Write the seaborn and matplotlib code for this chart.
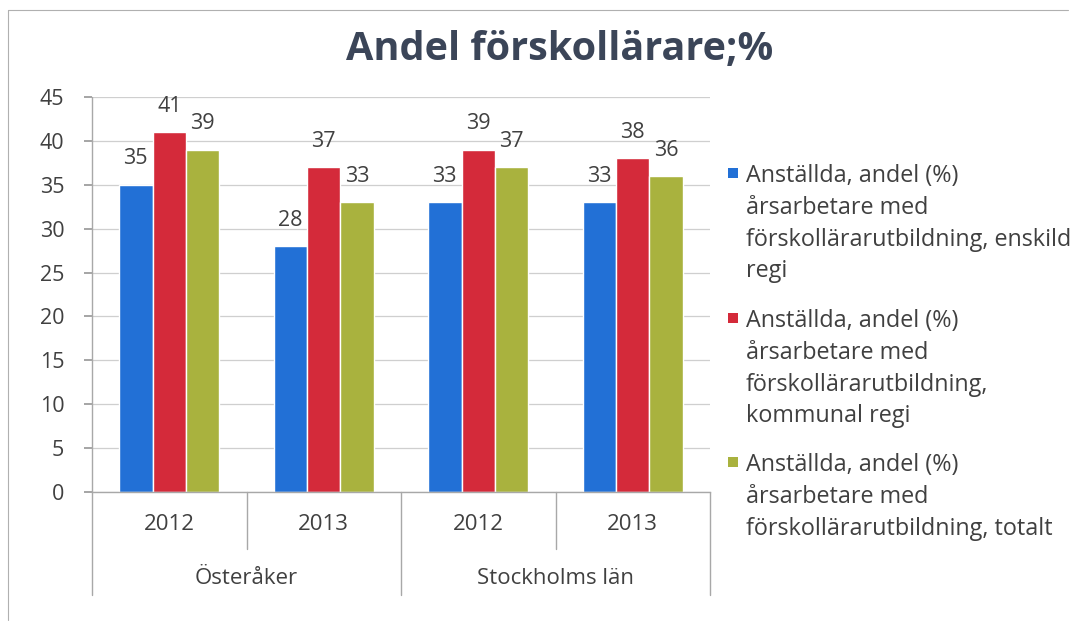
import matplotlib
matplotlib.use("Agg")
import matplotlib.pyplot as plt
import seaborn as sns
import pandas as pd
from matplotlib.patches import Rectangle
from matplotlib.lines import Line2D

# ---- data ----
groups = ["Österåker", "Österåker", "Stockholms län", "Stockholms län"]
years = ["2012", "2013", "2012", "2013"]
series_labels = [
    "Anställda, andel (%)\nårsarbetare med\nförskollärarutbildning, enskild\nregi",
    "Anställda, andel (%)\nårsarbetare med\nförskollärarutbildning,\nkommunal regi",
    "Anställda, andel (%)\nårsarbetare med\nförskollärarutbildning, totalt",
]
enskild = [35, 28, 33, 33]
kommunal = [41, 37, 39, 38]
totalt = [39, 33, 37, 36]
title = "Andel förskollärare;%"
colors = ["#2270d6", "#d42a3a", "#a9b23e"]

cats = [f"{g} {y}" for g, y in zip(groups, years)]
rows = []
for lab, vals in zip(series_labels, [enskild, kommunal, totalt]):
    for c, v in zip(cats, vals):
        rows.append({"cat": c, "value": v, "series": lab})
df = pd.DataFrame(rows)

sns.set_theme(style="white")
plt.rcParams["font.family"] = ["Open Sans", "DejaVu Sans"]
txt = "#404040"
W, H = 1075, 626

fig = plt.figure(figsize=(10.75, 6.26), dpi=100)
ax = fig.add_axes([92 / W, 1 - 492 / H, (710 - 92) / W, (492 - 97) / H])

sns.barplot(data=df, x="cat", y="value", hue="series", order=cats,
            hue_order=series_labels, palette=colors, width=0.65,
            saturation=1, ax=ax, errorbar=None, legend=False)

for cont in ax.containers:
    ax.bar_label(cont, padding=11, fontsize=15.5, color=txt)

ax.set_ylim(0, 45)
ax.set_xlim(-0.5, 3.5)
ax.set_yticks(range(0, 46, 5))
ax.tick_params(axis="y", labelsize=15.5, labelcolor=txt, length=6, color="#9a9a9a",
               left=True, pad=14)
ax.tick_params(axis="x", bottom=False, labelbottom=False)
ax.set_xlabel("")
ax.set_ylabel("")
ax.yaxis.grid(True, color="#cfcfcf", linewidth=0.9)
ax.set_axisbelow(True)
for s in ["top", "right", "left"]:
    ax.spines[s].set_visible(False)
ax.spines["bottom"].set_color("#a8a8a8")
ax.spines["bottom"].set_linewidth(1.0)

xt = ax.get_xaxis_transform()
# left axis line extended into the category area
ax.plot([-0.5, -0.5], [-0.26, 1.0], transform=xt, color="#a8a8a8", lw=1.0, clip_on=False)

# category separators
for xb, low in [(0.5, -0.145), (1.5, -0.26), (2.5, -0.145), (3.5, -0.26)]:
    ax.plot([xb, xb], [0, low], transform=xt, color="#a8a8a8", lw=1.0, clip_on=False)

# year labels and group labels
for i, y in enumerate(years):
    ax.text(i, -(525 - 492) / 395, y, transform=xt, ha="center", va="center",
            fontsize=16, color=txt)
uniq = []
for g in groups:
    if g not in uniq:
        uniq.append(g)
for g in uniq:
    idx = [i for i, gg in enumerate(groups) if gg == g]
    ax.text(sum(idx) / len(idx), -(578 - 492) / 395, g, transform=xt,
            ha="center", va="center", fontsize=16, color=txt)

# title
fig.text(560 / W, 1 - 50 / H, title, ha="center", va="center",
         fontsize=28.5, fontweight="bold", color="#3b4558")

# legend (square marker aligned with the first line of each entry)
entry_top = [173, 318, 462]
pitch = 31.8
for lab, col, y0 in zip(series_labels, colors, entry_top):
    fig.add_artist(Rectangle((728 / W, 1 - (y0 + 5) / H), 10 / W, 10 / H,
                             transform=fig.transFigure, facecolor=col,
                             edgecolor="none"))
    for k, line in enumerate(lab.split("\n")):
        fig.text(746 / W, 1 - (y0 + k * pitch) / H, line, ha="left",
                 va="center_baseline", fontsize=16.8, color=txt)

# faint chart border (top and left)
fig.add_artist(Line2D([8 / W, 1068 / W], [1 - 10 / H, 1 - 10 / H],
                      transform=fig.transFigure, color="#b0b0b0", lw=0.8))
fig.add_artist(Line2D([8 / W, 8 / W], [1 - 10 / H, 1 - 620 / H],
                      transform=fig.transFigure, color="#b0b0b0", lw=0.8))

fig.savefig("out.png", dpi=100, facecolor="white")
